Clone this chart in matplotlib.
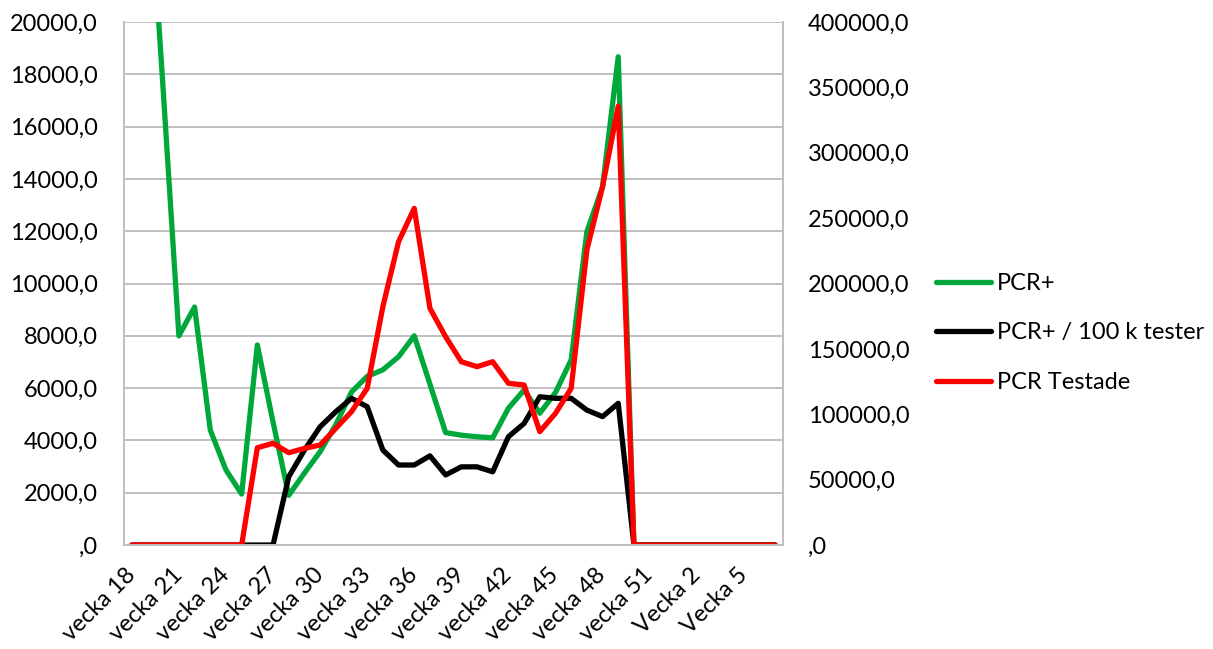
import numpy as np
import matplotlib
matplotlib.use("Agg")
import matplotlib.pyplot as plt

plt.rcParams['font.family'] = ['Lato', 'DejaVu Sans']

# veckor: 18-52 och sedan vecka 1-7
veckor = [f"vecka {w}" for w in range(18, 53)] + [f"Vecka {w}" for w in range(1, 8)]

pcr_pos = [36000, 26500, 17400, 8000, 9100, 4400, 2870, 1950, 7650, 4700,
           1900, 2750, 3570, 4600, 5850, 6450, 6700, 7200, 8000, 6150,
           4300, 4200, 4140, 4100, 5230, 5930, 5040, 5830, 7080, 11980,
           13700, 18670, 0, 0, 0, 0, 0, 0, 0, 0, 0, 0]
pcr_per_100k = [0, 0, 0, 0, 0, 0, 0, 0, 0, 0,
                2610, 3630, 4520, 5100, 5610, 5290, 3630, 3060, 3060, 3410,
                2680, 2990, 2990, 2800, 4140, 4650, 5670, 5610, 5610, 5160,
                4910, 5420, 0, 0, 0, 0, 0, 0, 0, 0, 0, 0]
pcr_testade = [0, 0, 0, 0, 0, 0, 0, 0, 74400, 77800,
               70600, 73900, 76500, 89200, 102000, 119800, 182300, 232000, 257500, 181000,
               159300, 140200, 136400, 140200, 123700, 122400, 86700, 100700, 119800, 225600,
               274000, 335700, 0, 0, 0, 0, 0, 0, 0, 0, 0, 0]

def fmt(v, pos=None):
    if v == 0:
        return ",0"
    return f"{v:.1f}".replace(".", ",")

grå = "#BFBFBF"
fs = 17

fig = plt.figure(figsize=(12.13, 6.49), dpi=100)
ax = fig.add_axes([0.1022, 0.1602, 0.5433, 0.8059])
ax2 = ax.twinx()

x = np.arange(len(veckor))
l1, = ax.plot(x, pcr_pos, color="#00A83C", lw=3.8, solid_capstyle="round", solid_joinstyle="round", label="PCR+")
l2, = ax.plot(x, pcr_per_100k, color="black", lw=3.8, solid_capstyle="round", solid_joinstyle="round", label="PCR+ / 100 k tester")
l3, = ax2.plot(x, pcr_testade, color="#FF0000", lw=3.8, solid_capstyle="round", solid_joinstyle="round", label="PCR Testade")

ax.set_xlim(-0.5, len(veckor) - 0.5)
ax.set_ylim(0, 20000)
ax2.set_ylim(0, 400000)
ax.set_yticks(np.arange(0, 20001, 2000))
ax2.set_yticks(np.arange(0, 400001, 50000))
ax.yaxis.set_major_formatter(plt.FuncFormatter(fmt))
ax2.yaxis.set_major_formatter(plt.FuncFormatter(fmt))

ax.grid(axis="y", color=grå, lw=1.4)
ax.set_axisbelow(True)
for a in (ax, ax2):
    for s in a.spines.values():
        s.set_color(grå)
        s.set_linewidth(1.4)
    a.spines["top"].set_visible(False)

ax.set_xticks(x[::3])
ax.set_xticklabels(veckor[::3], rotation=45, ha="right", va="center",
                   rotation_mode="anchor", fontsize=fs)
ax.tick_params(axis="x", length=0, pad=19)
ax.tick_params(axis="y", length=0, pad=19, labelsize=fs)
ax2.tick_params(axis="y", length=0, pad=18, labelsize=fs)

fig.legend(handles=[l1, l2, l3], loc="center left", bbox_to_anchor=(0.772, 0.487),
           frameon=False, fontsize=fs, handlelength=2.3, handletextpad=0.25,
           labelspacing=1.2, borderpad=0, borderaxespad=0)

fig.savefig("out.png", dpi=100)
